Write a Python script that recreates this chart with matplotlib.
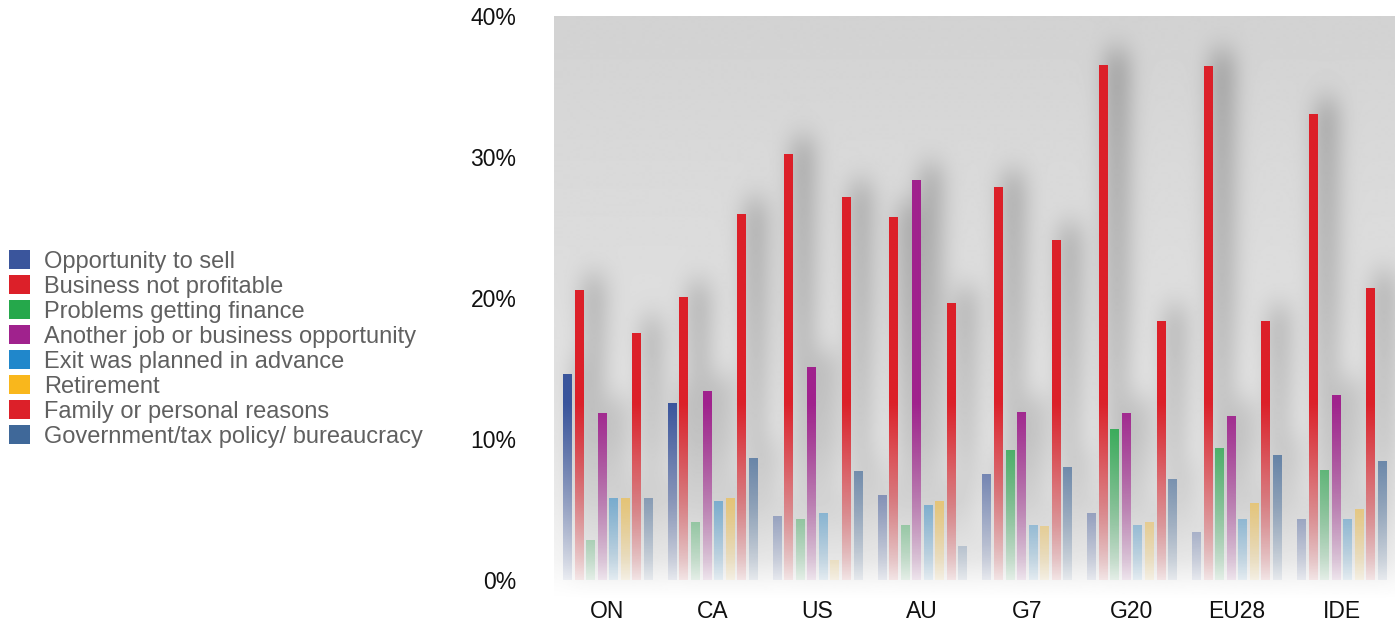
import numpy as np
import matplotlib
matplotlib.use('Agg')
import matplotlib.pyplot as plt
from matplotlib.patches import Patch

plt.rcParams['font.family'] = ['Liberation Sans', 'DejaVu Sans']

regions = ['ON', 'CA', 'US', 'AU', 'G7', 'G20', 'EU28', 'IDE']
reasons = ['Opportunity to sell', 'Business not profitable', 'Problems getting finance',
           'Another job or business opportunity', 'Exit was planned in advance',
           'Retirement', 'Family or personal reasons', 'Government/tax policy/ bureaucracy']
colors = ['#3a559c', '#dc2029', '#25a84b', '#a0228d', '#2087cb', '#f9b71c', '#dc2029', '#3f6899']

# values in %, one list per reason, ordered like regions
opportunity_to_sell = [14.6, 12.5, 4.5, 6.0, 7.5, 4.7, 3.4, 4.3]
not_profitable      = [20.5, 20.0, 30.2, 25.7, 27.8, 36.5, 36.4, 33.0]
finance_problems    = [2.8, 4.1, 4.3, 3.9, 9.2, 10.7, 9.3, 7.8]
another_job         = [11.8, 13.4, 15.1, 28.3, 11.9, 11.8, 11.6, 13.1]
planned_exit        = [5.8, 5.6, 4.7, 5.3, 3.9, 3.9, 4.3, 4.3]
retirement          = [5.8, 5.8, 1.4, 5.6, 3.8, 4.1, 5.4, 5.0]
family_reasons      = [17.5, 25.9, 27.1, 19.6, 24.1, 18.3, 18.3, 20.7]
government_policy   = [5.8, 8.6, 7.7, 2.4, 8.0, 7.1, 8.8, 8.4]

series = [opportunity_to_sell, not_profitable, finance_problems, another_job,
          planned_exit, retirement, family_reasons, government_policy]

fig = plt.figure(figsize=(14, 6.23), dpi=100)
ax = fig.add_axes([0.3957, 0.035, 0.6007, 0.9393])
x = np.arange(len(regions))
step = 0.11
width = 0.077

# background: vertical grey gradient with soft shadows behind the bars
nx, ny = 840, 585
gx = np.linspace(-0.51, 7.51, nx)
gy = np.linspace(-1.5, 40, ny)
base = np.interp(gy, [-1.5, -0.4, 1.4, 5.7, 10, 20, 30, 40],
                 [255, 252, 245, 236, 230, 222, 217, 210])
shadow = np.zeros((ny, nx))
for k, vals in enumerate(series):
    for i, v in enumerate(vals):
        cx = i + (k - 3.5) * step + 0.14
        cols = np.abs(gx - cx) < width * 1.3
        rows = gy < v + 1.0
        shadow[np.ix_(rows, cols)] = 1.0
ker_x = np.exp(-0.5 * (np.arange(-45, 46) / 11.0) ** 2)
ker_x /= ker_x.sum()
ker_y = np.exp(-0.5 * (np.arange(-50, 51) / 14.0) ** 2)
ker_y /= ker_y.sum()
shadow = np.apply_along_axis(lambda r: np.convolve(r, ker_x, mode='same'), 1, shadow)
shadow = np.apply_along_axis(lambda c: np.convolve(c, ker_y, mode='same'), 0, shadow)
dark = (255 - base)[:, None] * (1 + 1.5 * np.clip(shadow, 0, 1))
bg = np.clip(255 - dark, 0, 255) / 255.0
ax.imshow(bg, cmap='gray', vmin=0, vmax=1, extent=(-0.51, 7.51, -1.5, 40),
          origin='lower', aspect='auto', interpolation='bilinear', zorder=0)

# bars with a fade towards the baseline
for k, vals in enumerate(series):
    bars = ax.bar(x + (k - 3.5) * step, vals, width, color=colors[k], zorder=2)
    rgb = matplotlib.colors.to_rgb(colors[k])
    for b in bars:
        h = b.get_height()
        yy = np.linspace(0, h, 200)
        grad = np.zeros((200, 1, 4))
        grad[:, 0, :3] = rgb
        grad[:, 0, 3] = 0.08 + 0.92 * np.clip(yy / 12.5, 0, 1)
        ax.imshow(grad, extent=(b.get_x(), b.get_x() + b.get_width(), 0, h),
                  origin='lower', aspect='auto', interpolation='bilinear', zorder=2)
        b.set_visible(False)

ax.set_xlim(-0.51, 7.51)
ax.set_ylim(-1.5, 40)
ax.set_yticks([0, 10, 20, 30, 40])
ax.set_yticklabels(['0%', '10%', '20%', '30%', '40%'])
ax.set_xticks(x)
ax.set_xticklabels(regions)
ax.tick_params(axis='y', length=0, pad=27, labelsize=16.5, labelcolor='#111111')
ax.tick_params(axis='x', length=0, pad=-1, labelsize=16.5, labelcolor='#111111')
for s in ax.spines.values():
    s.set_visible(False)

handles = [Patch(facecolor=c, edgecolor='none') for c in colors]
leg = fig.legend(handles, reasons, loc='center left', bbox_to_anchor=(0.0, 0.44),
                 frameon=False, fontsize=17, labelspacing=0.1, handlelength=0.85,
                 handleheight=0.85, handletextpad=0.6, borderaxespad=0.0)
for t in leg.get_texts():
    t.set_color('#606060')

fig.savefig('out.png', dpi=100)
